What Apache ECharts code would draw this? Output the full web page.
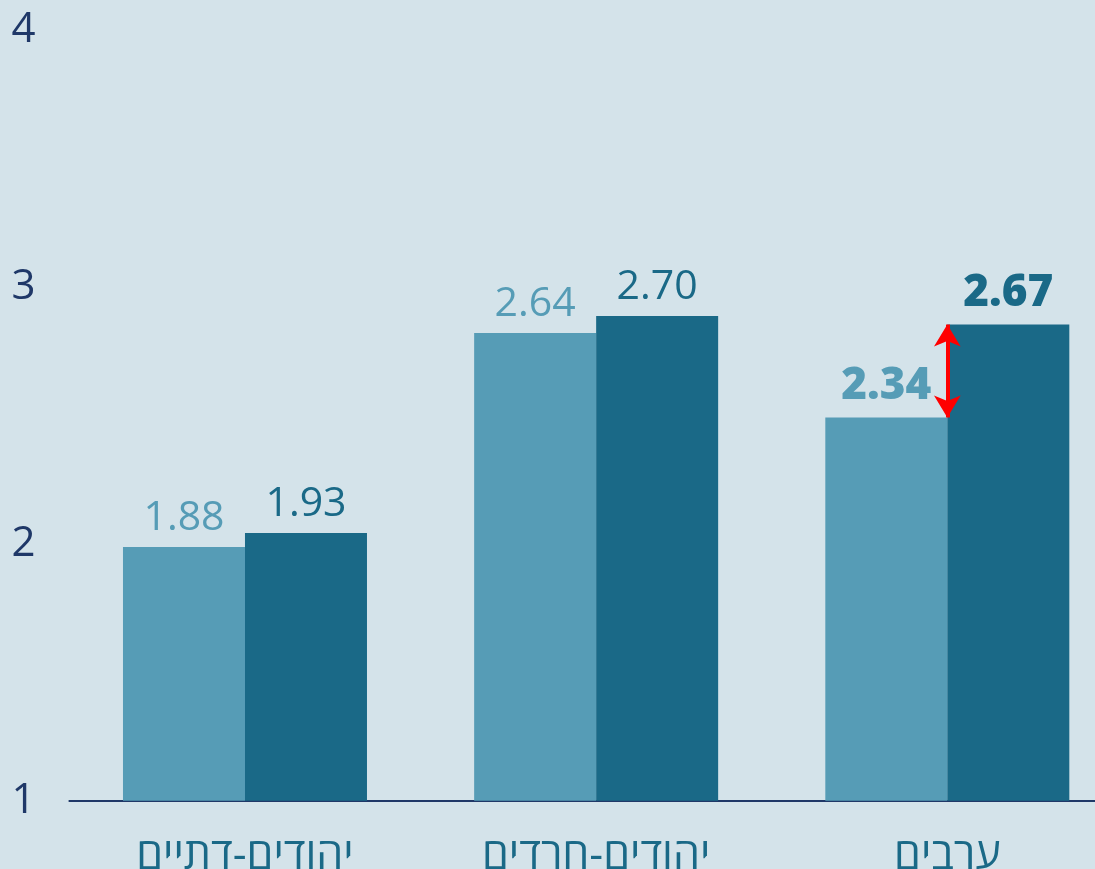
<!DOCTYPE html>
<html>
<head>
<meta charset="utf-8">
<script src="https://cdn.jsdelivr.net/npm/echarts@6/dist/echarts.min.js"></script>
<style>
  html, body { margin: 0; padding: 0; background: #d4e3ea; }
  #chart { width: 1095px; height: 869px; }
</style>
</head>
<body>
<div id="chart"></div>
<script>
// קטגוריות וערכים
var categories = ['יהודים-דתיים', 'יהודים-חרדים', 'ערבים'];
var seriesLight = [1.88, 2.64, 2.34];
var seriesDark = [1.93, 2.70, 2.67];
var yTickLabels = ['1', '2', '3', '4'];
var boldIndex = 2; // הקבוצה המודגשת

var lightColor = '#569cb6';
var darkColor = '#1a6987';
var navy = '#1f3868';

function buildData(values) {
  return values.map(function (v, i) {
    var item = { value: v };
    if (i === boldIndex) {
      item.label = { fontWeight: 800, fontSize: 44, distance: 9 };
    }
    return item;
  });
}

var myChart = echarts.init(document.getElementById('chart'));

var option = {
  backgroundColor: '#d4e3ea',
  animation: false,
  textStyle: { fontFamily: '"Open Sans", "DejaVu Sans", sans-serif' },
  grid: {
    left: 69.4, right: -27.9, top: 30, bottom: 68.3,
    containLabel: false,
    outerBoundsMode: 'none'
  },
  xAxis: {
    type: 'category',
    data: categories,
    axisLine: { onZero: false, lineStyle: { color: navy, width: 2 } },
    axisTick: { show: false },
    axisLabel: { color: darkColor, fontSize: 43, margin: 35, interval: 0 }
  },
  yAxis: [
    {
      // ציר הנתונים (מוסתר)
      type: 'value',
      position: 'right',
      min: 0.979,
      max: 3.716,
      show: false
    },
    {
      // ציר התוויות 1-4
      type: 'value',
      position: 'left',
      min: 1,
      max: 4,
      interval: 1,
      axisLine: { show: false },
      axisTick: { show: false },
      splitLine: { show: false },
      axisLabel: {
        color: navy,
        fontSize: 42,
        margin: 34,
        formatter: function (v) { return yTickLabels[Math.round(v) - 1]; }
      }
    }
  ],
  series: [
    {
      type: 'bar',
      yAxisIndex: 0,
      data: buildData(seriesLight),
      barWidth: 122,
      barGap: '0%',
      itemStyle: { color: lightColor },
      label: {
        show: true,
        position: 'top',
        distance: 8,
        color: lightColor,
        fontSize: 41,
        formatter: function (p) { return p.value.toFixed(2); }
      }
    },
    {
      type: 'bar',
      yAxisIndex: 0,
      data: buildData(seriesDark),
      barWidth: 122,
      barGap: '0%',
      itemStyle: { color: darkColor },
      label: {
        show: true,
        position: 'top',
        distance: 8,
        color: darkColor,
        fontSize: 41,
        formatter: function (p) { return p.value.toFixed(2); }
      }
    },
    {
      // חץ הפער בין הסדרות בקבוצה המודגשת
      type: 'line',
      yAxisIndex: 0,
      data: [],
      silent: true,
      markLine: {
        silent: true,
        symbol: ['arrow', 'arrow'],
        symbolSize: [20, 22],
        label: { show: false },
        lineStyle: { color: '#ff0000', width: 4, type: 'solid' },
        data: [
          [
            { coord: [boldIndex, seriesLight[boldIndex]] },
            { coord: [boldIndex, seriesDark[boldIndex]] }
          ]
        ]
      }
    }
  ]
};
myChart.setOption(option, true);
</script>
</body>
</html>
